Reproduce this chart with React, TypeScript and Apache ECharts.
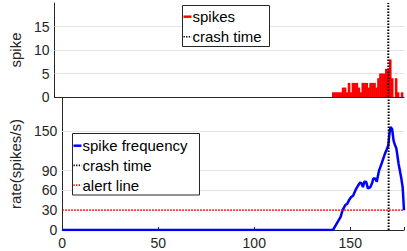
import React, { useEffect, useRef } from 'react';
import * as echarts from 'echarts';

const xMin = 0;
const xMax = 178;
const crashTime = 170;
const alertLevel = 30;

const timeTicks = [0, 50, 100, 150];
const spikeTicks = [0, 5, 10, 15];
const rateTicks = [0, 30, 60, 90, 150];

const spikeBins = [142, 143, 144, 145, 146, 147, 148, 149, 150, 151, 152, 153, 154, 155, 156, 157, 158, 159, 160, 161, 162, 163, 164, 165, 166, 167, 168, 169, 170, 171, 172, 173, 174, 175, 176, 177];
const spikeCounts = [1, 1, 1, 1, 1, 2, 2, 1, 3, 1, 3, 3, 3, 2, 1, 3, 3, 3, 2, 3, 3, 3, 2, 4, 5, 5, 5, 6, 6, 8, 4, 0, 4, 1, 0, 1];

const rateTimes = [0, 141, 143, 145, 146, 147.5, 148.5, 149.5, 150.5, 151.5, 153, 154, 155.2, 156, 156.6, 157.3, 158.3, 159.2, 160.5, 161.5, 162, 163, 163.8, 165, 166.5, 168, 169, 169.8, 170.5, 171, 171.8, 172.6, 173.4, 174, 175.2, 176.5, 177.3, 178];
const rateValues = [0, 0, 10, 20, 30, 38, 40, 46, 50, 52, 62, 67, 72, 70, 65, 73, 73, 63, 65, 72, 78, 78, 73, 90, 102, 115, 122, 128, 148, 156, 153, 135, 128, 124, 100, 80, 65, 30];

const topLegendNames = ['spikes', 'crash time'];
const bottomLegendNames = ['spike frequency', 'crash time', 'alert line'];

const FONT = '"Liberation Sans", Arial, Helvetica, sans-serif';
const AX = '#262626';
const GRID = '#e3e3e3';
const DOT = [1.5, 1.5];
const RED = '#ff0000';
const BLUE = '#0000ff';
const BLACK = '#000000';

const legendStyle: Record<string, { color: string; dotted: boolean; width: number }> = {
  'spikes': { color: RED, dotted: false, width: 2.5 },
  'crash time': { color: BLACK, dotted: true, width: 1.6 },
  'spike frequency': { color: BLUE, dotted: false, width: 2.5 },
  'alert line': { color: RED, dotted: true, width: 1.6 },
};

function legendBox(names: string[], x: number, y: number, w: number, h: number, firstRow: number, rowGap: number) {
  const children: any[] = [
    {
      type: 'rect',
      z: 100,
      shape: { x: x + 0.5, y: y + 0.5, width: w, height: h },
      style: { fill: '#ffffff', stroke: AX, lineWidth: 1 },
    },
  ];
  names.forEach((n, i) => {
    const cy = y + firstRow + i * rowGap;
    const s = legendStyle[n];
    children.push({
      type: 'line',
      z: 101,
      shape: { x1: x + 1.5, y1: cy, x2: x + 9.5, y2: cy },
      style: { stroke: s.color, lineWidth: s.width, lineDash: s.dotted ? [1.3, 1.3] : null },
    });
    children.push({
      type: 'text',
      z: 101,
      x: x + 10.5,
      y: cy,
      style: { text: n, fontSize: 15, fontFamily: FONT, fill: BLACK, verticalAlign: 'middle', align: 'left' },
    });
  });
  return { type: 'group', z: 100, children };
}

export default function App() {
  const ref = useRef<HTMLDivElement>(null);
  useEffect(() => {
    if (!ref.current) return;
    const chart = echarts.init(ref.current, undefined, { renderer: 'svg' });
    const axisLine = { show: true, onZero: false, lineStyle: { color: AX, width: 1 } };
    const labelStyle = { fontSize: 14, color: AX, fontFamily: FONT };
    const gridMark = (ticks: number[]) => ({
      silent: true,
      z: 1,
      symbol: 'none',
      label: { show: false },
      lineStyle: { color: GRID, type: 'solid', width: 1 },
      data: ticks.filter((v) => v > 0).map((v) => ({ yAxis: v })),
    });
    const option = {
      animation: false,
      textStyle: { fontFamily: FONT },
      grid: [
        { left: 48, right: 3, top: 3, height: 94 },
        { left: 48, right: 3, top: 98, height: 132 },
      ],
      xAxis: [
        {
          gridIndex: 0, type: 'value', min: xMin, max: xMax, interval: 50,
          axisLine, axisTick: { show: false }, axisLabel: { show: false }, splitLine: { show: false },
        },
        {
          gridIndex: 1, type: 'value', min: xMin, max: xMax, interval: 50,
          axisLine,
          axisTick: { show: true, inside: true, length: 3, lineStyle: { color: AX } },
          axisLabel: { ...labelStyle, margin: 6, formatter: (v: number) => (timeTicks.includes(v) ? String(v) : '') },
          splitLine: { show: false },
        },
      ],
      yAxis: [
        {
          gridIndex: 0, type: 'value', min: 0, max: 20, interval: 5,
          name: 'spike', nameLocation: 'middle', nameGap: 24,
          nameTextStyle: { fontSize: 15, color: AX, fontFamily: FONT },
          axisLine, axisTick: { show: false },
          axisLabel: { ...labelStyle, margin: 5, formatter: (v: number) => (spikeTicks.includes(v) ? String(v) : '') },
          splitLine: { show: false },
        },
        {
          gridIndex: 1, type: 'value', min: 0, max: 200, interval: 30,
          name: 'rate(spikes/s)', nameLocation: 'middle', nameGap: 35,
          nameTextStyle: { fontSize: 15, color: AX, fontFamily: FONT },
          axisLine, axisTick: { show: false },
          axisLabel: { ...labelStyle, margin: 5, formatter: (v: number) => (rateTicks.includes(v) ? String(v) : '') },
          splitLine: { show: false },
        },
      ],
      graphic: [
        legendBox(topLegendNames, 182, 5, 87, 41, 11.7, 20),
        legendBox(bottomLegendNames, 72, 133, 127, 61.5, 12.7, 19.7),
      ],
      series: [
        {
          type: 'line', name: 'grid-top', xAxisIndex: 0, yAxisIndex: 0, data: [], z: 1,
          markLine: gridMark(spikeTicks),
        },
        {
          type: 'bar', name: 'spikes', xAxisIndex: 0, yAxisIndex: 0, z: 3,
          barWidth: 2.6,
          itemStyle: { color: RED },
          data: spikeBins.map((b, i) => [b, spikeCounts[i]]),
        },
        {
          type: 'line', name: 'crash time', xAxisIndex: 0, yAxisIndex: 0, z: 4,
          symbol: 'none', showSymbol: false,
          itemStyle: { color: BLACK },
          lineStyle: { color: BLACK, width: 2, type: DOT },
          data: [[crashTime, 0], [crashTime, 20]],
        },
        {
          type: 'line', name: 'grid-bottom', xAxisIndex: 1, yAxisIndex: 1, data: [], z: 1,
          markLine: gridMark(rateTicks.filter((v) => v !== alertLevel)),
        },
        {
          type: 'line', name: 'spike frequency', xAxisIndex: 1, yAxisIndex: 1, z: 3,
          symbol: 'none', showSymbol: false,
          itemStyle: { color: BLUE },
          lineStyle: { color: BLUE, width: 2.5 },
          data: rateTimes.map((t, i) => [t, rateValues[i]]),
        },
        {
          type: 'line', name: 'crash time', xAxisIndex: 1, yAxisIndex: 1, z: 4,
          symbol: 'none', showSymbol: false,
          itemStyle: { color: BLACK },
          lineStyle: { color: BLACK, width: 2, type: DOT },
          data: [[crashTime, 0], [crashTime, 200]],
        },
        {
          type: 'line', name: 'alert line', xAxisIndex: 1, yAxisIndex: 1, z: 4,
          symbol: 'none', showSymbol: false,
          color: RED,
          itemStyle: { color: RED },
          lineStyle: { color: RED, width: 1.8, type: DOT },
          data: [[xMin, alertLevel], [xMax, alertLevel]],
        },
      ],
    };
    chart.setOption(option as any);
    return () => chart.dispose();
  }, []);
  return <div ref={ref} style={{ position: 'fixed', left: 0, top: 0, width: 407, height: 251, background: '#fff' }} />;
}
